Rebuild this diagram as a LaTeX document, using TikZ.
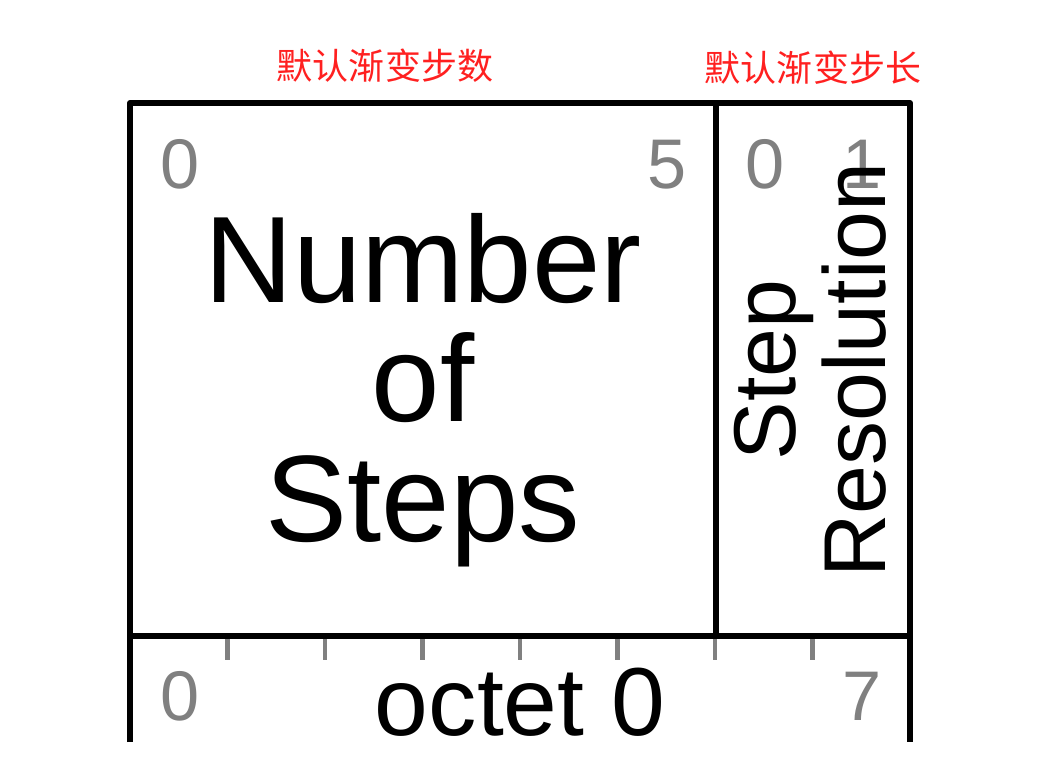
\documentclass[tikz,border=0pt]{standalone}
\usepackage{fontspec}
\setmainfont{Liberation Sans}
\newfontfamily\cjkfont{Noto Sans CJK SC}
\usetikzlibrary{positioning}
\definecolor{bitgrey}{HTML}{808080}
\definecolor{notered}{HTML}{FF2020}
\tikzset{
  frame/.style={line width=3.5pt, draw=black, line cap=butt, line join=round},
  bittick/.style={line width=2.8pt, draw=bitgrey},
  bitnum/.style={font=\fontsize{40}{40}\selectfont, text=bitgrey, anchor=base, inner sep=0pt},
  field/.style={font=\fontsize{70}{68}\selectfont, align=center, inner sep=0pt},
  sidefield/.style={font=\fontsize{50}{50}\selectfont, rotate=90, anchor=base, inner sep=0pt},
  octet/.style={font=\fontsize{55}{55}\selectfont, anchor=base, inner sep=0pt},
  note/.style={font=\cjkfont\fontsize{20.5}{20.5}\selectfont, text=notered, inner sep=0pt}
}
\begin{document}
\begin{tikzpicture}[x=0.02cm,y=-0.02cm]
\path[use as bounding box] (0,0) rectangle (1053,758);
\fill[white] (0,0) rectangle (1053,758);

% outer frame and field divider
\coordinate (topleft) at (130,103);
\coordinate (topright) at (910,103);
\draw[frame] (130,742) -- (topleft) -- (topright) -- (910,742);
\draw[frame] (130,636) -- (910,636);
\draw[frame] (716,103) -- (716,636);

% bit ticks
\foreach \k in {1,...,7}
  \draw[bittick] ({130+97.5*\k},639) -- ++(0,21);

\node[note] (countnote) at (385,66) {默认渐变步数};
\node[note] (resnote) at (813,68) {默认渐变步长};

\node[bitnum] (cfirst) at (180,188) {0};
\node[bitnum] (clast) at (667,188) {5};
\node[bitnum] (rfirst) at (765,188) {0};
\node[bitnum] (rlast) at (862,188) {1};

\node[field] (count) at (423,390) {Number\\of\\Steps};
\node[sidefield] (steplbl) at (795,370) {Step};
\node[sidefield] (reslbl) at (885,370) {Resolution};

\node[bitnum] (ofirst) at (180,720) {0};
\node[bitnum] (olast) at (862,720) {7};
\node[octet] (octet) at (520,735) {octet 0};
\end{tikzpicture}
\end{document}
